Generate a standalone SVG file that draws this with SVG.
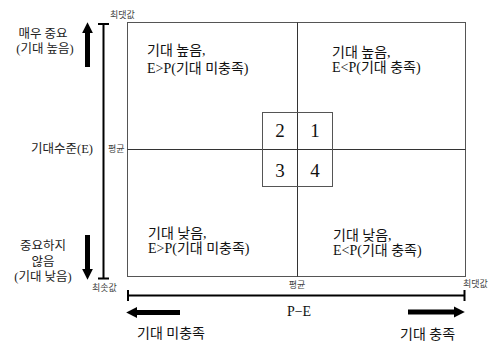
<svg xmlns="http://www.w3.org/2000/svg" width="498" height="344" viewBox="0 0 498 344">
<style>
.q{font-family:"Liberation Serif","Noto Sans CJK KR",serif;font-size:14px;fill:#111}
.n{font-family:"Liberation Serif","Noto Sans CJK KR",serif;font-size:19px;fill:#111;text-anchor:middle}
.l{font-family:"Liberation Serif","Noto Sans CJK KR",serif;font-size:12.5px;fill:#222;text-anchor:middle}
.le{font-family:"Liberation Serif","Noto Sans CJK KR",serif;font-size:12.5px;fill:#222;text-anchor:end}
.s{font-family:"Liberation Serif","Noto Sans CJK KR",serif;font-size:9px;fill:#444}
.box{fill:none;stroke:#555;stroke-width:1}
.mid{stroke:#333;stroke-width:1}
.ax{stroke:#000;stroke-width:2;fill:none}
.big{stroke:#000;stroke-width:5}
</style>
<defs>
<marker id="ah" viewBox="0 0 10 10" refX="2" refY="5" markerWidth="2.2" markerHeight="2.4" orient="auto" markerUnits="strokeWidth">
<path d="M0,0 L10,5 L0,10 z" fill="#000"/>
</marker>
</defs>
<g id="frame">
<rect class="box" x="127.5" y="22.5" width="338" height="254"/>
<line class="mid" x1="297.5" y1="22.5" x2="297.5" y2="276.5"/>
<line class="mid" x1="127.5" y1="149.5" x2="465.5" y2="149.5"/>
</g>
<g id="center-box">
<rect class="box" x="262.5" y="112.5" width="70" height="74" stroke="#333"/>
<text class="n" x="280" y="137">2</text>
<text class="n" x="315" y="137">1</text>
<text class="n" x="280" y="177">3</text>
<text class="n" x="315" y="177">4</text>
</g>
<g id="q2"><text class="q" x="147" y="55">기대 높음,</text><text class="q" x="147" y="73">E&gt;P(기대 미충족)</text></g>
<g id="q1"><text class="q" x="332" y="57">기대 높음,</text><text class="q" x="332" y="72">E&lt;P(기대 충족)</text></g>
<g id="q3"><text class="q" x="148" y="238">기대 낮음,</text><text class="q" x="148" y="253">E&gt;P(기대 미충족)</text></g>
<g id="q4"><text class="q" x="333" y="240">기대 낮음,</text><text class="q" x="333" y="255">E&lt;P(기대 충족)</text></g>
<g id="connectors">
<path class="ax" d="M103.5,24 V278.5 M98,24 H109 M98,278.5 H109"/>
<path class="ax" d="M128,295.5 H464.5 M128,290 V301 M464.5,290 V301"/>
<line class="big" x1="87.5" y1="67" x2="87.5" y2="31" marker-end="url(#ah)"/>
<line class="big" x1="87.5" y1="235" x2="87.5" y2="271" marker-end="url(#ah)"/>
<line class="big" x1="180" y1="312.5" x2="135" y2="312.5" marker-end="url(#ah)"/>
<line class="big" x1="408" y1="312" x2="456" y2="312" marker-end="url(#ah)"/>
</g>
<g id="labels">
<text class="s" x="110" y="18">최댓값</text>
<text class="s" x="108" y="152">평균</text>
<text class="s" x="92" y="291">최솟값</text>
<text class="s" x="297" y="288" text-anchor="middle">평균</text>
<text class="s" x="463" y="287">최댓값</text>
<text class="l" x="43" y="38">매우 중요</text>
<text class="l" x="45" y="53">(기대 높음)</text>
<text class="le" x="93" y="153">기대수준(E)</text>
<text class="l" x="43" y="250">중요하지</text>
<text class="l" x="43" y="266">않음</text>
<text class="l" x="43" y="281">(기대 낮음)</text>
<text class="q" x="299" y="316" text-anchor="middle">P−E</text>
<text class="q" x="137" y="338">기대 미충족</text>
<text class="q" x="400" y="339">기대 충족</text>
</g>
</svg>
